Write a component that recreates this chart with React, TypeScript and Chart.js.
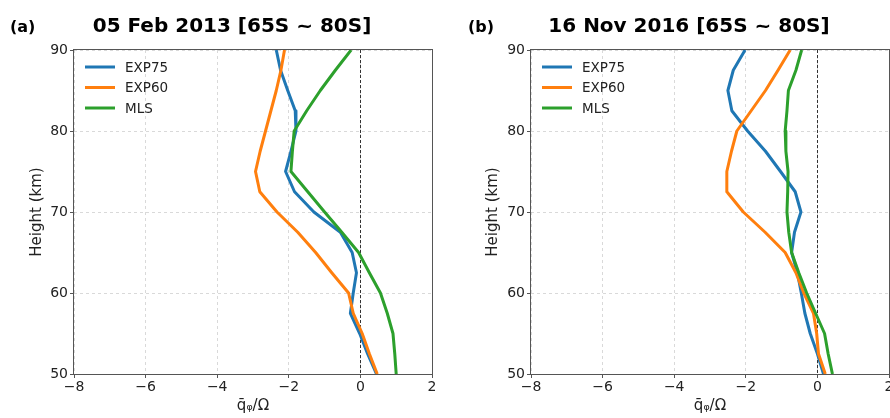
import React, { useEffect, useRef } from 'react';
import { Chart, registerables } from 'chart.js';

Chart.register(...registerables);

// ---- data ----
const HEIGHTS = [90, 87.5, 85, 82.5, 80, 77.5, 75, 72.5, 70, 67.5, 65, 62.5, 60, 57.5, 55, 52.5, 50];

const A_EXP75 = [-2.35, -2.23, -2.03, -1.82, -1.8, -1.94, -2.09, -1.84, -1.3, -0.56, -0.23, -0.11, -0.2, -0.28, -0.02, 0.2, 0.45];
const A_EXP60 = [-2.12, -2.22, -2.35, -2.5, -2.65, -2.8, -2.93, -2.81, -2.33, -1.75, -1.25, -0.8, -0.33, -0.2, 0.05, 0.25, 0.47];
const A_MLS = [-0.26, -0.7, -1.12, -1.5, -1.85, -1.9, -1.94, -1.47, -1.0, -0.52, -0.05, 0.25, 0.56, 0.75, 0.91, 0.96, 1.0];

const B_EXP75 = [-2.02, -2.35, -2.5, -2.39, -1.95, -1.45, -1.03, -0.62, -0.46, -0.64, -0.72, -0.56, -0.45, -0.35, -0.2, 0.0, 0.17];
const B_EXP60 = [-0.76, -1.1, -1.45, -1.85, -2.25, -2.4, -2.53, -2.53, -2.07, -1.46, -0.9, -0.6, -0.38, -0.11, -0.02, 0.03, 0.22];
const B_MLS = [-0.44, -0.6, -0.81, -0.85, -0.9, -0.88, -0.82, -0.83, -0.85, -0.8, -0.72, -0.52, -0.3, -0.05, 0.2, 0.3, 0.42];

const SERIES_NAMES = ['EXP75', 'EXP60', 'MLS'];
const SERIES_COLORS = ['#1f77b4', '#ff7f0e', '#2ca02c'];

const X_MIN = -8;
const X_MAX = 2;
const X_STEP = 2;
const Y_MIN = 50;
const Y_MAX = 90;
const Y_STEP = 10;

const PANEL_A = { label: '(a)', title: '05 Feb 2013 [65S ~ 80S]', series: [A_EXP75, A_EXP60, A_MLS] };
const PANEL_B = { label: '(b)', title: '16 Nov 2016 [65S ~ 80S]', series: [B_EXP75, B_EXP60, B_MLS] };

const FONT = "'DejaVu Sans', sans-serif";

const decorPlugin = {
  id: 'decor',
  beforeDatasetsDraw(chart: any) {
    const { ctx, chartArea: ca, scales } = chart;
    const x0 = Math.round(scales.x.getPixelForValue(0)) + 0.5;
    ctx.save();
    ctx.strokeStyle = '#333';
    ctx.lineWidth = 1;
    ctx.setLineDash([3, 2]);
    ctx.beginPath();
    ctx.moveTo(x0, ca.top);
    ctx.lineTo(x0, ca.bottom);
    ctx.stroke();
    ctx.restore();
  },
  afterDatasetsDraw(chart: any, _args: any, opts: any) {
    const { ctx, chartArea: ca } = chart;
    ctx.save();
    // spines
    ctx.strokeStyle = '#555';
    ctx.lineWidth = 1;
    ctx.setLineDash([]);
    ctx.strokeRect(Math.round(ca.left) - 0.5, Math.round(ca.top) - 0.5, Math.round(ca.right - ca.left) + 1, Math.round(ca.bottom - ca.top) + 1);
    // legend
    chart.data.datasets.forEach((ds: any, i: number) => {
      const y = ca.top + 17 + i * 20.5;
      ctx.strokeStyle = ds.borderColor;
      ctx.lineWidth = 3;
      ctx.beginPath();
      ctx.moveTo(ca.left + 11, y);
      ctx.lineTo(ca.left + 41, y);
      ctx.stroke();
      ctx.fillStyle = '#222';
      ctx.font = `13.5px ${FONT}`;
      ctx.textBaseline = 'middle';
      ctx.textAlign = 'left';
      ctx.fillText(ds.label, ca.left + 51, y + 1);
    });
    // panel label and title
    ctx.fillStyle = '#000';
    ctx.textBaseline = 'alphabetic';
    ctx.font = `bold 16px ${FONT}`;
    ctx.textAlign = 'left';
    ctx.fillText(opts.label, opts.labelX, 32);
    ctx.font = `bold 20px ${FONT}`;
    ctx.textAlign = 'center';
    ctx.fillText(opts.title, opts.titleX, 32);
    ctx.restore();
  },
};

function Panel({ panel, left, yWidth, padRight, labelX, titleX, yTitlePad }: any) {
  const ref = useRef<HTMLCanvasElement | null>(null);
  useEffect(() => {
    if (!ref.current) return;
    const fmt = (v: any) => String(v).replace('-', '\u2212');
    const chart = new Chart(ref.current, {
      type: 'scatter',
      data: {
        datasets: panel.series.map((vals: number[], i: number) => ({
          label: SERIES_NAMES[i],
          data: vals.map((v, k) => ({ x: v, y: HEIGHTS[k] })),
          showLine: true,
          borderColor: SERIES_COLORS[i],
          backgroundColor: SERIES_COLORS[i],
          borderWidth: 3,
          borderJoinStyle: 'round',
          pointRadius: 0,
          pointHoverRadius: 0,
          tension: 0,
          order: 3 - i,
        })),
      },
      options: {
        responsive: false,
        animation: false,
        events: [],
        layout: { padding: { top: 50, right: padRight, bottom: 0, left: 0 } },
        plugins: {
          legend: { display: false },
          tooltip: { enabled: false },
          title: { display: false },
          decor: { label: panel.label, title: panel.title, labelX, titleX },
        } as any,
        scales: {
          x: {
            type: 'linear',
            min: X_MIN,
            max: X_MAX,
            ticks: { stepSize: X_STEP, color: '#222', font: { family: FONT, size: 14 }, padding: 1, callback: fmt, maxRotation: 0 },
            grid: { color: 'rgba(180,180,180,0.5)', tickColor: '#555', tickLength: 4, lineWidth: 1 },
            border: { display: false, dash: [3, 3] },
            title: { display: true, text: 'q\u0304\u1D69/\u03A9', color: '#222', font: { family: FONT, size: 15 }, padding: { top: 0, bottom: 3 } },
            afterFit: (s: any) => { s.height = 44; s.paddingLeft = 0; s.paddingRight = 0; },
          },
          y: {
            type: 'linear',
            min: Y_MIN,
            max: Y_MAX,
            ticks: { stepSize: Y_STEP, color: '#222', font: { family: FONT, size: 14 }, padding: 2, callback: fmt },
            grid: { color: 'rgba(180,180,180,0.5)', tickColor: '#555', tickLength: 4, lineWidth: 1 },
            border: { display: false, dash: [3, 3] },
            title: { display: true, text: 'Height (km)', color: '#222', font: { family: FONT, size: 15 }, padding: { top: yTitlePad, bottom: 0 } },
            afterFit: (s: any) => { s.width = yWidth; s.paddingTop = 0; s.paddingBottom = 0; },
          },
        },
      } as any,
      plugins: [decorPlugin as any],
    });
    return () => chart.destroy();
  }, []);
  return (
    <canvas
      ref={ref}
      width={445}
      height={418}
      style={{ position: 'absolute', left, top: 0, width: 445, height: 418 }}
    />
  );
}

export default function App() {
  return (
    <div style={{ position: 'fixed', left: 0, top: 0, width: 890, height: 418, background: '#fff', overflow: 'hidden' }}>
      <Panel panel={PANEL_A} left={0} yWidth={74} padRight={13} labelX={10} titleX={232} yTitlePad={28} />
      <Panel panel={PANEL_B} left={445} yWidth={86} padRight={1} labelX={23} titleX={244} yTitlePad={39} />
    </div>
  );
}
